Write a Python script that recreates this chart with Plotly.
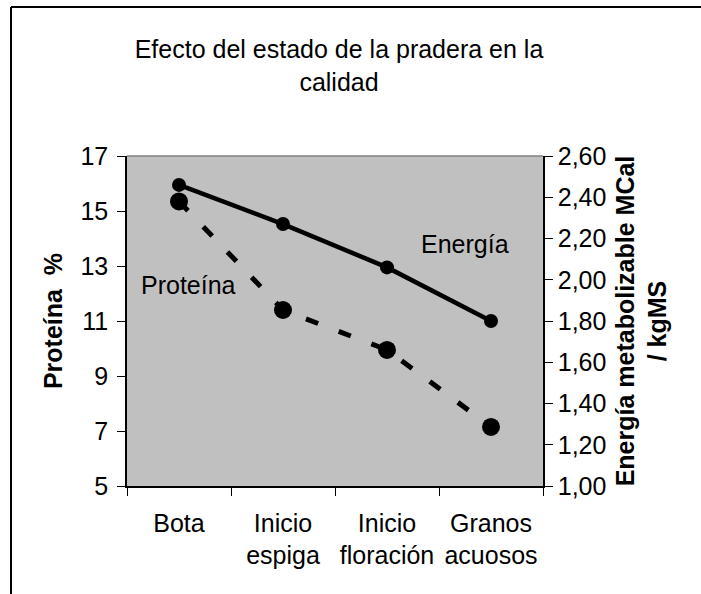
import plotly.graph_objects as go

# ---- data ----
categories = ["Bota", "Inicio<br>espiga", "Inicio<br>floración", "Granos<br>acuosos"]
proteina = [15.35, 11.4, 9.95, 7.15]
energia = [2.46, 2.27, 2.06, 1.80]

prot_range = [5, 17]
prot_dtick = 2
ener_range = [1.0, 2.6]
ener_dtick = 0.2

title_text = "Efecto del estado de la pradera en la<br>calidad"
ytitle_left = "Proteína  %"
ytitle_right = "Energía metabolizable MCal<br>/ kgMS"

FONT = "Liberation Sans, Arial, sans-serif"
FS = 25

fig = go.Figure()

fig.add_trace(go.Scatter(
    x=categories, y=proteina, mode="lines+markers", name="Proteína",
    line=dict(color="black", width=5, dash="13px,22px"),
    marker=dict(color="black", size=18),
    xaxis="x", yaxis="y",
))
fig.add_trace(go.Scatter(
    x=categories, y=energia, mode="lines+markers", name="Energía",
    line=dict(color="black", width=4.5),
    marker=dict(color="black", size=14),
    xaxis="x", yaxis="y2",
))

W, H = 701, 594
L, R, T, B = 127, 158, 156, 108
pw, ph = W - L - R, H - T - B

def px_x(px):
    return (px - L) / pw

def px_y(py):
    return (H - B - py) / ph

axis_common = dict(showgrid=False, zeroline=False, showline=True, linecolor="black",
                   linewidth=1.5, tickcolor="black", tickwidth=1.2,
                   tickfont=dict(family=FONT, size=FS, color="black"))

fig.update_layout(
    width=W, height=H,
    margin=dict(l=L, r=R, t=T, b=B),
    paper_bgcolor="white", plot_bgcolor="#c0c0c0",
    showlegend=False,
    separators=", ",
    font=dict(family=FONT, size=FS, color="black"),
    title=dict(text=title_text, x=339 / W, xanchor="center", xref="container",
               y=1 - 58 / H, yanchor="top", yref="container",
               font=dict(family=FONT, size=FS, color="black")),
    xaxis=dict(type="category", range=[-0.5, 3.5], tickson="boundaries",
               ticks="outside", ticklen=8, ticklabelstandoff=14, **axis_common),
    yaxis=dict(range=prot_range, dtick=prot_dtick, tick0=5, ticks="outside", ticklen=8,
               ticklabelstandoff=4,
               title=dict(text="<b>" + ytitle_left + "</b>", standoff=11,
                          font=dict(family=FONT, size=FS, color="black")),
               **axis_common),
    yaxis2=dict(range=ener_range, dtick=ener_dtick, tick0=1.0, tickformat=".2f",
                overlaying="y", side="right", anchor="x", ticks="outside", ticklen=8,
                title=dict(text="<b>" + ytitle_right + "</b>", standoff=11,
                           font=dict(family=FONT, size=FS, color="black")),
                **axis_common),
    # overlay axes that draw the inner half of the crossing ticks
    xaxis2=dict(overlaying="x", anchor="y", side="bottom", range=[-0.5, 3.5], tick0=-0.5, dtick=1,
                ticks="inside", ticklen=7, tickcolor="black", tickwidth=1.2,
                showticklabels=False, showline=False, showgrid=False, zeroline=False),
    yaxis3=dict(overlaying="y", anchor="x", side="left", range=prot_range, tick0=5, dtick=prot_dtick,
                ticks="inside", ticklen=7, tickcolor="black", tickwidth=1.2,
                showticklabels=False, showline=False, showgrid=False, zeroline=False),
    yaxis4=dict(overlaying="y", anchor="x", side="right", range=ener_range, tick0=1.0, dtick=ener_dtick,
                ticks="inside", ticklen=7, tickcolor="black", tickwidth=1.2,
                showticklabels=False, showline=False, showgrid=False, zeroline=False),
    shapes=[
        # gray top border of plot area
        dict(type="line", xref="paper", yref="paper", x0=0, x1=1, y0=1, y1=1,
             line=dict(color="#808080", width=1.5), layer="above"),
        # outer chart frame: left and top edges (right/bottom lie past the picture)
        dict(type="line", xref="paper", yref="paper",
             x0=px_x(11), x1=px_x(11), y0=px_y(H + 5), y1=px_y(7),
             line=dict(color="black", width=2), layer="above"),
        dict(type="line", xref="paper", yref="paper",
             x0=px_x(11), x1=px_x(W + 5), y0=px_y(7), y1=px_y(7),
             line=dict(color="black", width=2), layer="above"),
    ],
    annotations=[
        dict(text="Proteína", xref="paper", yref="paper", x=px_x(188), y=px_y(285),
             showarrow=False, xanchor="center", yanchor="middle",
             font=dict(family=FONT, size=FS, color="black")),
        dict(text="Energía", xref="paper", yref="paper", x=px_x(465), y=px_y(244),
             showarrow=False, xanchor="center", yanchor="middle",
             font=dict(family=FONT, size=FS, color="black")),
    ],
)

fig.write_html("out.html")
